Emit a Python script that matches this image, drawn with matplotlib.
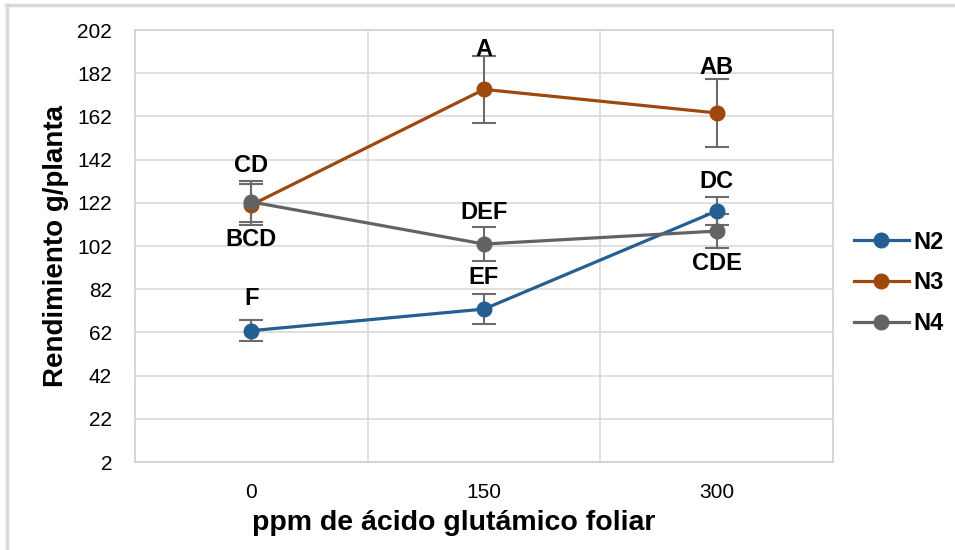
#!/usr/bin/env python3
"""Rendimiento g/planta vs ppm de ácido glutámico foliar (N2, N3, N4)."""

import matplotlib
matplotlib.use('Agg')
import matplotlib.pyplot as plt
from matplotlib.lines import Line2D

plt.rcParams['font.family'] = ['Liberation Sans', 'DejaVu Sans']

# ---------------------------------------------------------------------------
# Data
# ---------------------------------------------------------------------------
dosis = ['0', '150', '300']
series = ['N2', 'N3', 'N4']

n2_mean = [62.8, 72.8, 118.2]
n2_err = [5.0, 7.0, 6.5]
n2_letras = ['F', 'EF', 'DC']

n3_mean = [121.0, 174.5, 163.6]
n3_err = [9.5, 15.5, 15.8]
n3_letras = ['BCD', 'A', 'AB']

n4_mean = [122.4, 102.9, 108.9]
n4_err = [9.5, 8.0, 8.0]
n4_letras = ['CD', 'DEF', 'CDE']

y_ticks = [2, 22, 42, 62, 82, 102, 122, 142, 162, 182, 202]

colors = {'N2': '#255E91', 'N3': '#9E480E', 'N4': '#636363'}

# label offset (in points) for each letter: above (+) / below (-) the marker
offsets = {
    'N2': [23, 23, 21.5],
    'N3': [-25, 29, 33],
    'N4': [26.5, 22.5, -23],
}

# ---------------------------------------------------------------------------
# Plot
# ---------------------------------------------------------------------------
fig = plt.figure(figsize=(9.55, 5.5), dpi=100)
ax = fig.add_axes([135 / 955, 1 - 462 / 550, (833 - 135) / 955, (462 - 30) / 550])

x = list(range(len(dosis)))
data = {
    'N2': (n2_mean, n2_err, n2_letras),
    'N3': (n3_mean, n3_err, n3_letras),
    'N4': (n4_mean, n4_err, n4_letras),
}

for name in series:
    mean, err, letras = data[name]
    ax.errorbar(x, mean, yerr=err, fmt='none', ecolor='#6b6b6b',
                elinewidth=1.5, capsize=8.5, capthick=1.5, zorder=3)
    ax.plot(x, mean, color=colors[name], lw=2.3, marker='o', ms=10.5,
            label=name, zorder=4)
    for xi, yi, txt, off in zip(x, mean, letras, offsets[name]):
        ax.annotate(txt, (xi, yi), xytext=(0, off), textcoords='offset points',
                    ha='center', va='center', fontsize=17, fontweight='bold',
                    zorder=5)

ax.set_xlim(-0.5, 2.5)
ax.set_ylim(2, 202)
ax.set_xticks(x)
ax.set_xticklabels(dosis)
ax.set_yticks(y_ticks)
ax.set_xticks([0.5, 1.5], minor=True)
ax.tick_params(axis='both', which='both', length=0, labelsize=15, colors='black')
ax.tick_params(axis='y', pad=16.5)
ax.tick_params(axis='x', pad=15)
ax.grid(axis='y', which='major', color='#d9d9d9', lw=1.2)
ax.grid(axis='x', which='minor', color='#d9d9d9', lw=1.2)
ax.set_axisbelow(True)
for sp in ax.spines.values():
    sp.set_color('#d0d0d0')
    sp.set_linewidth(1.2)

ax.set_xlabel('ppm de ácido glutámico foliar', fontsize=20.5, fontweight='bold')
ax.xaxis.set_label_coords(0.456, -0.112)
ax.set_ylabel('Rendimiento g/planta', fontsize=20, fontweight='bold', labelpad=6)

ax.legend(loc='center left', bbox_to_anchor=(1.0, 0.415), frameon=False,
          prop={'weight': 'bold', 'size': 17}, handlelength=2.3,
          labelspacing=0.75, handletextpad=0.2)

# outer chart border (top and left visible in the reference)
fig.add_artist(Line2D([0.006, 1.0], [0.991, 0.991], color='#d9d9d9', lw=2.5))
fig.add_artist(Line2D([0.007, 0.007], [0.0, 0.991], color='#d9d9d9', lw=2.5))

plt.savefig('out.png', dpi=100)
